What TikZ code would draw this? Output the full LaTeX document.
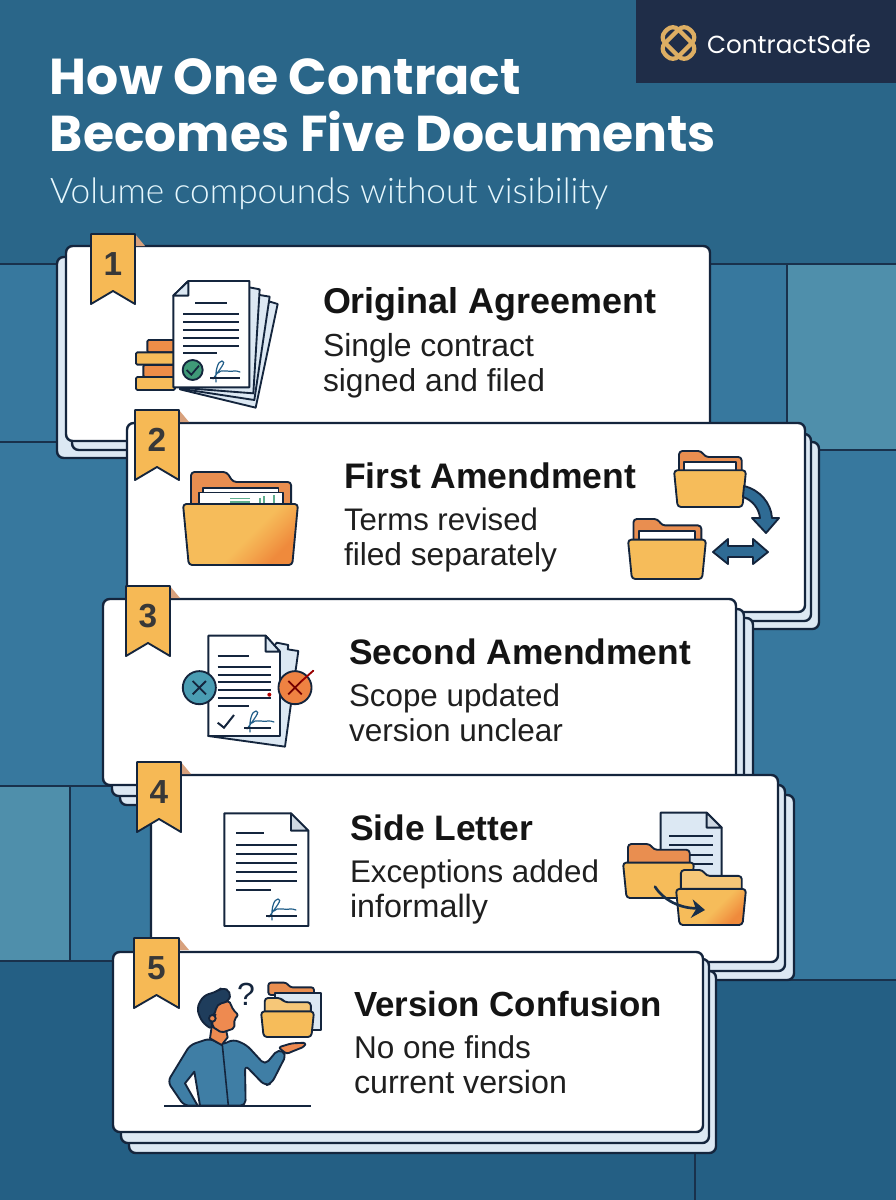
\documentclass[tikz,border=0pt]{standalone}
\usepackage{graphicx}
\usepackage{fontspec}
\setmainfont{Liberation Sans}
\newfontfamily\titlefont{Poppins}
\newfontfamily\subfont{Lato}[UprightFont=* Light]
\newfontfamily\logofont{Poppins}
\newlength\pxu \setlength\pxu{0.75pt}
\definecolor{inkc}{HTML}{14253D}
\definecolor{bgtop}{HTML}{2A6689}
\definecolor{bgmid}{HTML}{37789E}
\definecolor{bglite}{HTML}{4F8FAB}
\definecolor{bgbot}{HTML}{245F84}
\definecolor{sheetc}{HTML}{DCE8F3}
\definecolor{ribc}{HTML}{F6B955}
\definecolor{foldc}{HTML}{D8A17D}
\definecolor{fy}{HTML}{F6BC5A}
\definecolor{fyl}{HTML}{F6C778}
\definecolor{fo}{HTML}{EF8A3C}
\definecolor{fom}{HTML}{F3A34B}
\definecolor{tabc}{HTML}{E98E50}
\definecolor{coinc}{HTML}{EE8D48}
\definecolor{logoc}{HTML}{DDAE63}
\definecolor{navyb}{HTML}{1F2D48}
\definecolor{sigc}{HTML}{1F5D88}
\definecolor{arrowc}{HTML}{2F6B94}
\definecolor{persc}{HTML}{3F7EA5}
\definecolor{skinc}{HTML}{EE8A50}
\definecolor{hairc}{HTML}{1F3D5C}
\definecolor{okgreen}{HTML}{3F9A78}
\definecolor{tealc}{HTML}{4A9DB3}
\definecolor{barg}{HTML}{5FAE8E}
\pgfdeclareverticalshading{foldsh}{100bp}{color(0bp)=(fo); color(27bp)=(fo); color(36bp)=(fom); color(46bp)=(fy); color(100bp)=(fy)}
\tikzset{
  ink/.style={draw=inkc,line width=1.4pt,line join=round},
  thinln/.style={draw=inkc,line width=1.3pt},
  bgline/.style={draw=inkc!85!bgmid,line width=1.1pt},
  sheetbox/.style={draw=inkc,line width=1.8pt,fill=sheetc,rounded corners=5pt},
  frontbox/.style={draw=inkc,line width=1.8pt,fill=white,rounded corners=5pt},
  txt/.style={anchor=base west,inner sep=0pt,outer sep=0pt},
  zm/.style 2 args={shift={(#1,#2)},x=0.25pt,y=-0.25pt},
  flatfront/.style={fill=fy},
  shadefront/.style={shade,shading=foldsh,shading angle=45},
}
\newcommand{\lab}[7]{\node[txt,text=#6] (#1) at (#2,#3) {\resizebox{#4\pxu}{!}{#5#7}};}
\newcommand{\cardtitle}[5]{\lab{#1}{#2}{#3}{#4}{\bfseries\fontsize{26}{30}\selectfont}{black!92}{#5}}
\newcommand{\cardbody}[5]{\lab{#1}{#2}{#3}{#4}{\fontsize{23}{28}\selectfont}{black!88}{#5}}
\newcommand{\ribbon}[5]{%
  \fill[foldc] (#3,#4)--(#3+10,#4+12)--(#3,#4+12)--cycle;
  \draw[ink,fill=ribc] (#2,#4)--(#3,#4)--(#3,#4+70)--({(#2+#3)/2},#4+57)--(#2,#4+70)--cycle;
  \node[inner sep=0pt,anchor=base,text=black!78] (#1) at ({(#2+#3)/2},#4+41) {\bfseries\fontsize{25}{30}\selectfont #5};
}
\newcommand{\folderic}[7]{%
\begin{scope}[shift={(#1,#2)},x=#3*0.75pt,y=-#4*0.75pt]
  \draw[ink,fill=#5,rounded corners=2.5pt] (.07,.9)--(.07,0)--(.38,0)--(.435,.107)--(.94,.107)--(.94,.9)--cycle;
  #6
  \draw[ink,#7,rounded corners=2.5pt] (0,.344)--(1,.344)--(.95,1)--(.05,1)--cycle;
\end{scope}}
\newcommand{\sigmark}[3]{%
\begin{scope}[shift={(#1,#2)}]
  \draw[sigc,line width=0.9pt,line cap=round] (3,1) .. controls (10,-9) and (17,-17) .. (12,-17) .. controls (8,-17) and (5,-8) .. (6,4);
  \draw[sigc,line width=0.9pt,line cap=round] (8,-5) .. controls (12,-9) and (14,-6) .. (17,-7) .. controls (20,-8) and (22,-5) .. (24,-7) .. controls (26,-8) and (28,-6) .. (30,-6);
  \draw[inkc,line width=1.3pt] (0,0)--(#3,0);
\end{scope}}
\begin{document}
\begin{tikzpicture}[x=0.75pt,y=-0.75pt]
\useasboundingbox (0,0) rectangle (896,1200);
% background tiles
\fill[bgmid] (0,0) rectangle (896,1200);
\fill[bgtop] (0,0) rectangle (896,264);
\fill[bglite] (787,264) rectangle (896,450);
\fill[bglite] (0,786) rectangle (70,961);
\fill[bgbot] (0,961)--(300,961)--(300,980)--(896,980)--(896,1200)--(0,1200)--cycle;
\draw[bgline] (0,264)--(896,264);
\draw[bgline] (787,264)--(787,430);
\draw[bgline] (0,442)--(80,442);
\draw[bgline] (818,450)--(896,450);
\draw[bgline] (0,786)--(160,786);
\draw[bgline] (70,786)--(70,961);
\draw[bgline] (0,961)--(130,961);
\draw[bgline] (790,980)--(896,980);
\draw[bgline] (695,1150)--(695,1200);
% logo box
\fill[navyb] (636,0) rectangle (896,83);
\begin{scope}[shift={(678.5,43)}]
  \draw[logoc,line width=3.2pt,rotate=45,rounded corners=6pt] (-17.5,-9.5) rectangle (17.5,9.5);
  \draw[logoc,line width=3.2pt,rotate=-45,rounded corners=6pt] (-17.5,-9.5) rectangle (17.5,9.5);
\end{scope}
\lab{brand}{707}{53}{164}{\logofont\fontsize{18}{22}\selectfont}{white}{ContractSafe}
% title
\lab{t1}{50}{94}{471}{\titlefont\bfseries\fontsize{37}{44}\selectfont}{white}{How One Contract}
\lab{t2}{50}{151}{666}{\titlefont\bfseries\fontsize{37}{44}\selectfont}{white}{Becomes Five Documents}
\lab{t3}{50}{203}{558}{\subfont\fontsize{25}{30}\selectfont}{white!90!cyan}{Volume compounds without visibility}
% ===== card 1 =====
\draw[sheetbox] (57,257) rectangle (700,458);
\draw[sheetbox] (72,300) rectangle (700,450);
\draw[frontbox] (66,246) rectangle (710,441);
\ribbon{n1}{91}{135}{234}{1}
\begin{scope}[zm={50}{230}]
  \draw[ink,fill=coinc,rounded corners=1pt] (292,330) rectangle (375,367);
  \draw[ink,fill=fy,rounded corners=1pt] (258,367) rectangle (375,404);
  \draw[ink,fill=coinc,rounded corners=1pt] (280,405) rectangle (375,441);
  \draw[ink,fill=fy,rounded corners=1pt] (258,441) rectangle (375,480);
  \draw[ink,fill=sheetc] (660,215)--(683,222)--(617,533)--(390,478)--cycle;
  \draw[ink,fill=sheetc] (629,195)--(659,200)--(613,510)--(390,476)--cycle;
  \draw[ink,fill=sheetc] (598,172)--(629,178)--(610,490)--(390,473)--cycle;
  \draw[ink,fill=white] (415,153)--(598,153)--(598,472)--(370,472)--(370,197)--cycle;
  \draw[ink,fill=sheetc] (415,153)--(415,197)--(370,197)--cycle;
  \draw[thinln] (435,220)--(532,220);
  \foreach \yy in {253,277,300,324,347} \draw[thinln] (400,\yy)--(567,\yy);
  \draw[thinln] (400,370)--(500,370);
  \draw[ink,fill=okgreen] (428,420) circle (7.5pt);
  \draw[inkc,line width=1.3pt] (410,420)--(424,434)--(447,407);
\end{scope}
\sigmark{210}{378}{30}
\cardtitle{c1a}{323}{313}{333}{Original Agreement}
\cardbody{c1b}{323}{356}{211}{Single contract}
\cardbody{c1c}{323}{391}{222}{signed and filed}
% ===== card 2 =====
\draw[sheetbox] (150,442) rectangle (819,629);
\draw[sheetbox] (140,434) rectangle (811,621);
\draw[frontbox] (127,423) rectangle (805,612);
\ribbon{n2}{135}{179}{410}{2}
\folderic{183}{472}{115}{93}{tabc}{
  \draw[ink,fill=white] (.175,.9)--(.175,.17)--(.83,.17)--(.83,.9)--cycle;
  \draw[ink,fill=white] (.14,.9)--(.14,.22)--(.87,.22)--(.87,.9)--cycle;
  \draw[barg,line width=1.2pt] (.41,.285)--(.58,.285);
  \draw[barg,line width=1.2pt] (.41,.32)--(.58,.32);
  \draw[barg,line width=1.5pt] (.67,.344)--(.67,.28);
  \draw[barg,line width=1.5pt] (.70,.344)--(.70,.26);
  \draw[barg,line width=1.5pt] (.79,.344)--(.79,.25);
}{shadefront}
\folderic{674}{451}{72}{56}{tabc}{
  \draw[ink,fill=white] (.14,.9)--(.14,.2)--(.86,.2)--(.86,.9)--cycle;
}{flatfront}
\folderic{628}{519}{78}{60}{tabc}{
  \draw[ink,fill=white] (.14,.9)--(.14,.2)--(.86,.2)--(.86,.9)--cycle;
}{flatfront}
\draw[ink,fill=arrowc] (744,486) .. controls (760,490) and (771,503) .. (772,518) -- (779,518) -- (766,533) -- (752,518) -- (760,518) .. controls (759,508) and (752,500) .. (743,497) -- cycle;
\draw[ink,fill=arrowc] (713,552)--(728,539)--(728,546)--(753,546)--(753,539)--(768,552)--(753,564)--(753,557)--(728,557)--(728,564)--cycle;
\cardtitle{c2a}{344}{488}{292}{First Amendment}
\cardbody{c2b}{344}{530}{194}{Terms revised}
\cardbody{c2c}{344}{565}{213}{filed separately}
% ===== card 3 =====
\draw[sheetbox] (120,618) rectangle (753,805);
\draw[sheetbox] (112,609) rectangle (744,796);
\draw[frontbox] (103,599) rectangle (736,785);
\ribbon{n3}{126}{170}{586}{3}
\begin{scope}[zm={100}{590}]
  \draw[ink,fill=sheetc] (530,158)--(565,165)--(563,178)--(595,183)--(555,470)--(325,438)--cycle;
  \draw[ink,fill=white] (325,137)--(497,137)--(540,185)--(540,438)--(325,438)--cycle;
  \draw[ink,fill=sheetc] (497,137)--(497,185)--(540,185)--cycle;
  \draw[thinln] (353,199)--(447,199);
  \foreach \yy in {231,254,277,300,323} \draw[thinln] (353,\yy)--(513,\yy);
  \draw[thinln] (353,348)--(447,348);
  \draw[inkc,line width=1.5pt] (353,398)--(372,413)--(402,375);
  \fill[red!70!black] (508,314) circle (1.5pt);
  \draw[ink,fill=tealc] (298,293) circle (12.4pt);
  \draw[inkc,line width=1.4pt] (278,273)--(318,313) (318,273)--(278,313);
  \draw[ink,fill=coinc!92!red] (585,293) circle (12.4pt);
  \draw[red!45!black,line width=1.4pt] (565,273)--(605,313) (605,273)--(565,313);
  \draw[red!60!black,line width=1.4pt,line cap=round] (605,273)--(640,242);
\end{scope}
\sigmark{244}{728}{27}
\cardtitle{c3a}{349}{664}{342}{Second Amendment}
\cardbody{c3b}{349}{706}{211}{Scope updated}
\cardbody{c3c}{349}{741}{214}{version unclear}
% ===== card 4 =====
\draw[sheetbox] (170,795) rectangle (794,980);
\draw[sheetbox] (160,785) rectangle (785,971);
\draw[frontbox] (151,775) rectangle (778,962);
\ribbon{n4}{137}{181}{762}{4}
\begin{scope}[zm={130}{770}]
  \draw[ink,fill=white] (283,130)--(483,130)--(535,182)--(535,468)--(283,468)--cycle;
  \draw[ink,fill=sheetc!85!gray] (483,130)--(483,182)--(535,182)--cycle;
  \draw[thinln] (318,190)--(403,190);
  \foreach \yy in {225,252,279,307,334} \draw[thinln] (318,\yy)--(500,\yy);
  \draw[thinln] (318,361)--(424,361);
\end{scope}
\sigmark{266}{916}{31}
\begin{scope}[zm={600}{780}]
  \draw[ink,fill=sheetc] (182,98)--(320,98)--(365,143)--(365,300)--(182,300)--cycle;
  \draw[ink,fill=sheetc!85!gray] (320,98)--(320,143)--(365,143)--cycle;
  \foreach \yy in {168,196,224,252} \draw[thinln] (208,\yy)--(338,\yy);
\end{scope}
\folderic{623}{844}{71}{54}{tabc}{}{flatfront}
\folderic{676}{870}{70}{55}{fyl}{}{shadefront}
\begin{scope}[zm={600}{780}]
  \draw[inkc!85!arrowc,line width=2pt,line cap=round] (165,320) .. controls (190,360) and (240,385) .. (290,385);
  \fill[inkc!85!arrowc] (315,390)--(278,358)--(288,388)--(272,414)--cycle;
\end{scope}
\cardtitle{c4a}{350}{840}{183}{Side Letter}
\cardbody{c4b}{350}{882}{249}{Exceptions added}
\cardbody{c4c}{350}{917}{138}{informally}
% ===== card 5 =====
\draw[sheetbox] (129,971) rectangle (716,1153);
\draw[sheetbox] (121,959) rectangle (709,1143);
\draw[frontbox] (113,952) rectangle (703,1132);
\ribbon{n5}{134}{179}{938}{5}
\begin{scope}[zm={105}{930}]
  \draw[ink,fill=persc,rounded corners=4pt] (237,527)--(188,455)--(255,345)--(315,325)--(350,345)--(385,328)--(425,345)--(480,405)--(520,357)--(545,372)--(500,460)--(480,467)--(420,405)--(422,527)--cycle;
  \draw[ink,fill=white] (268,425)--(240,460)--(278,527)--(285,527)--cycle;
  \draw[inkc,line width=1.2pt] (352,345)--(370,527);
  \draw[ink,fill=skinc] (320,290)--(315,325)--(350,345)--(368,322)--(362,295)--cycle;
  \draw[ink,fill=skinc,rounded corners=1.5pt] (325,225)--(372,212)--(385,240)--(400,255)--(388,268)--(388,295)--(350,308)--(322,290)--cycle;
  \draw[ink,fill=hairc,rounded corners=4pt] (322,300)--(290,275)--(275,235)--(295,197)--(335,185)--(352,172)--(378,185)--(372,215)--(335,222)--(330,255)--(318,262)--cycle;
  \draw[ink,fill=skinc] (322,265) circle (2.5pt);
  \draw[ink,fill=skinc,rounded corners=2pt] (520,352)--(560,340)--(603,338)--(598,350)--(560,365)--(545,372)--cycle;
  \draw[ink,fill=tabc,rounded corners=2pt] (490,195)--(490,158)--(545,158)--(555,172)--(627,172)--(627,195)--cycle;
  \draw[ink,fill=sheetc] (510,188) rectangle (647,300);
\end{scope}
\folderic{261}{998}{53}{39}{fyl}{}{flatfront}
\draw[inkc,line width=1.4pt] (164,1106)--(311,1106);
\node[inner sep=0pt,anchor=base,text=inkc] (qm) at (246,1005) {\fontsize{24}{28}\selectfont ?};
\cardtitle{c5a}{354}{1016}{308}{Version Confusion}
\cardbody{c5b}{354}{1058}{177}{No one finds}
\cardbody{c5c}{354}{1093}{213}{current version}
\end{tikzpicture}
\end{document}
